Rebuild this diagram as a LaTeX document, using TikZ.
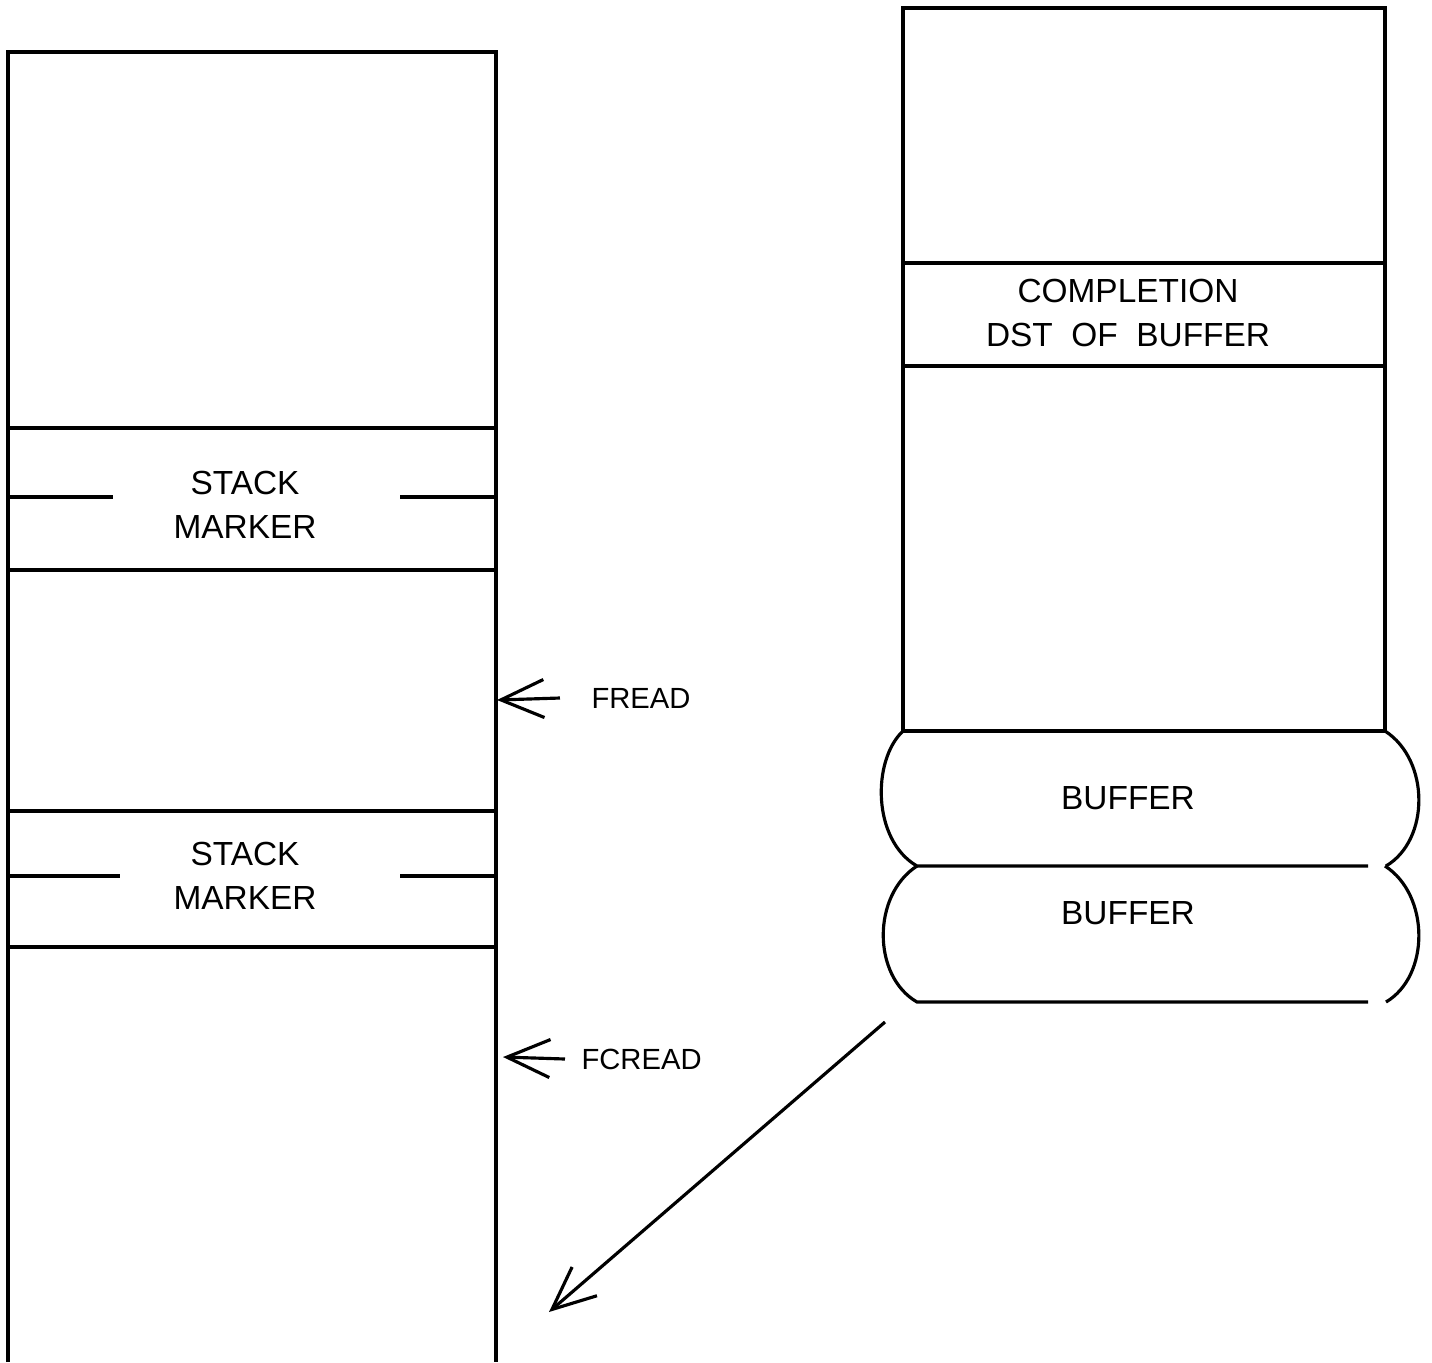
\documentclass[tikz,border=0pt]{standalone}
\usepackage{fontspec}
\setmainfont{Liberation Sans}
\usetikzlibrary{arrows.meta}

\tikzset{
  memtext/.style={font=\fontsize{9.5}{12.5}\selectfont, align=center, inner sep=0pt},
  ptrlabel/.style={font=\fontsize{8.3}{10}\selectfont, inner sep=0pt, anchor=west},
  ptr/.style={-{Straight Barb[length=4.3mm,width=3.8mm]}},
}

\begin{document}
\begin{tikzpicture}[x=0.01cm, y=-0.01cm, line width=0.9pt]
    \useasboundingbox (0,0) rectangle (1432,1362);

    % Stack column (runs off the bottom of the page)
    \draw (8,1362) -- (8,52) -- (496,52) -- (496,1362);
    \foreach \yl in {428, 570, 811, 947} {
        \draw (8,\yl) -- (496,\yl);
    }
    % broken middle lines of the markers
    \foreach \yl/\xa in {497/113, 876/120} {
        \draw (8,\yl) -- (\xa,\yl);
        \draw (400,\yl) -- (496,\yl);
    }
    \node[memtext] (mark1) at (245,505) {STACK\\MARKER};
    \node[memtext] (mark2) at (245,876) {STACK\\MARKER};

    % Frame column
    \draw (903,8) rectangle (1385,731);
    \draw (903,263) -- (1385,263);
    \draw (903,366) -- (1385,366);
    \node[memtext] (compl) at (1128,313) {COMPLETION\\DST~~OF~~BUFFER};

    % Buffers hanging below the frame
    \foreach \yt/\yb/\xs in {731/866/903, 866/1002/917} {
        \pgfmathsetmacro{\ya}{\yt+29}
        \pgfmathsetmacro{\yc}{\yb-26}
        \draw (\xs,\yt) .. controls (872,\ya) and (872,\yc) .. (917,\yb) -- (1368,\yb);
        \draw (1385,\yt) .. controls (1430,\ya) and (1430,\yc) .. (1386,\yb);
    }
    \node[memtext] (buf1) at (1128,798) {BUFFER};
    \node[memtext] (buf2) at (1128,913) {BUFFER};

    % Pointers into the stack
    \coordinate (freadtip) at (497,700);
    \coordinate (fcreadtip) at (503,1057);
    \node[ptrlabel] (fread) at (590,698) {FREAD};
    \node[ptrlabel] (fcread) at (580,1059) {FCREAD};
    \draw[ptr] ([xshift=-3mm]fread.west) -- (freadtip);
    \draw[ptr] ([xshift=-1.5mm]fcread.west) -- (fcreadtip);

    % Buffer pushed onto the stack
    \coordinate (bufout) at (885,1022);
    \coordinate (bufin) at (549,1312);
    \draw[ptr] (bufout) -- (bufin);
\end{tikzpicture}
\end{document}
